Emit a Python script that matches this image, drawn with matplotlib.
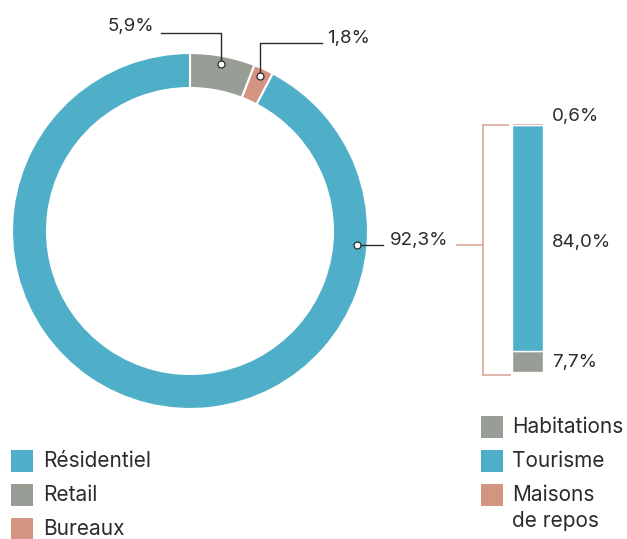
import matplotlib
matplotlib.use("Agg")
import matplotlib.pyplot as plt
from matplotlib.patches import Rectangle
import numpy as np

# ---------------- data ----------------
donut_categories = ["Résidentiel", "Retail", "Bureaux"]
donut_values = [92.3, 5.9, 1.8]
donut_labels = ["92,3%", "5,9%", "1,8%"]

bar_categories = ["Habitations", "Tourisme", "Maisons\nde repos"]
bar_values = [7.7, 84.0, 0.6]
bar_labels = ["7,7%", "84,0%", "0,6%"]

BLUE = "#50AFC8"
GRAY = "#989D96"
SALMON = "#D39481"
BRACKET = "#E0ADA0"
TEXT = "#2B2B2B"
donut_colors = [BLUE, GRAY, SALMON]
bar_colors = [GRAY, BLUE, SALMON]

plt.rcParams["font.family"] = ["Inter", "DejaVu Sans"]
FS = 13.5
LFS = 15

W, H = 627, 539
fig = plt.figure(figsize=(W / 100, H / 100), dpi=100)
ax = fig.add_axes([0, 0, 1, 1])

def Y(py):
    return H - py

# ---------------- donut ----------------
cx, cy, R, ring = 190, Y(231), 178, 35
order = [1, 2, 0]  # clockwise from top: Retail, Bureaux, Résidentiel
ax.pie([donut_values[i] for i in order],
       colors=[donut_colors[i] for i in order],
       startangle=90, counterclock=False, radius=R, center=(cx, cy),
       wedgeprops=dict(width=ring, edgecolor="white", linewidth=1.5),
       frame=True)

total = sum(donut_values)
cum = 0.0
mid_angles = {}
for i in order:
    mid_angles[i] = 90 - (cum + donut_values[i] / 2) / total * 360
    cum += donut_values[i]
mid_angles[0] = -4.8  # label anchor for Résidentiel

def dot(angle, r=170):
    a = np.deg2rad(angle)
    return cx + r * np.cos(a), cy + r * np.sin(a)

# Retail
dx, dy = dot(mid_angles[1])
ax.plot([dx, dx, 161], [dy, Y(33), Y(33)], color=TEXT, lw=1.0, zorder=3)
ax.plot(dx, dy, "o", ms=5, mfc="white", mec=TEXT, mew=0.9, zorder=4)
ax.text(154, Y(27), donut_labels[1], ha="right", va="center", fontsize=FS, color=TEXT)
# Bureaux
dx, dy = dot(mid_angles[2])
ax.plot([dx, dx, 322], [dy, Y(43), Y(43)], color=TEXT, lw=1.0, zorder=3)
ax.plot(dx, dy, "o", ms=5, mfc="white", mec=TEXT, mew=0.9, zorder=4)
ax.text(327, Y(38), donut_labels[2], ha="left", va="center", fontsize=FS, color=TEXT)
# Résidentiel
dx, dy = dot(mid_angles[0], 168)
ax.plot([dx, 383], [dy, dy], color=TEXT, lw=1.0, zorder=3)
ax.plot(dx, dy, "o", ms=5, mfc="white", mec=TEXT, mew=0.9, zorder=4)
ax.text(390, Y(241), donut_labels[0], ha="left", va="center", fontsize=FS, color=TEXT)

# bracket
bc = dict(color=BRACKET, lw=1.3)
ax.plot([457, 483], [Y(245), Y(245)], **bc)
ax.plot([483, 483], [Y(125), Y(375)], **bc)
ax.plot([483, 508], [Y(125), Y(125)], **bc)
ax.plot([483, 510], [Y(375), Y(375)], **bc)

# ---------------- legends ----------------
left_y = [461, 495, 529]
for cat, col, py in zip(donut_categories, donut_colors, left_y):
    ax.add_patch(Rectangle((11, Y(py + 11)), 22, 22, color=col, lw=0))
    ax.text(43, Y(py), cat, ha="left", va="center", fontsize=LFS, color=TEXT)

right_y = [427, 461, 495]
line_gap = 26
for cat, col, py in zip(bar_categories, bar_colors, right_y):
    ax.add_patch(Rectangle((481, Y(py + 11)), 22, 22, color=col, lw=0))
    for k, line in enumerate(cat.split("\n")):
        ax.text(512, Y(py + k * line_gap), line, ha="left", va="center",
                fontsize=LFS, color=TEXT)

ax.set_xlim(0, W)
ax.set_ylim(0, H)
ax.set_aspect("equal")
ax.axis("off")

# ---------------- stacked bar ----------------
bx0, bx1, by_top, by_bot = 512, 543, 123, 372
bax = fig.add_axes([bx0 / W, (H - by_bot) / H, (bx1 - bx0) / W, (by_bot - by_top) / H])
bottom = 0.0
for v, c in zip(bar_values, bar_colors):
    bax.bar(0, v, bottom=bottom, width=1.0, color=c, edgecolor="white", linewidth=1.0)
    bottom += v
bax.set_xlim(-0.5, 0.5)
bax.set_ylim(0, sum(bar_values))
bax.axis("off")

label_y = [363, 243, 117]
for lab, py in zip(bar_labels, label_y):
    ax.text(552, Y(py), lab, ha="left", va="center", fontsize=FS, color=TEXT)

fig.savefig("out.png", dpi=100)
